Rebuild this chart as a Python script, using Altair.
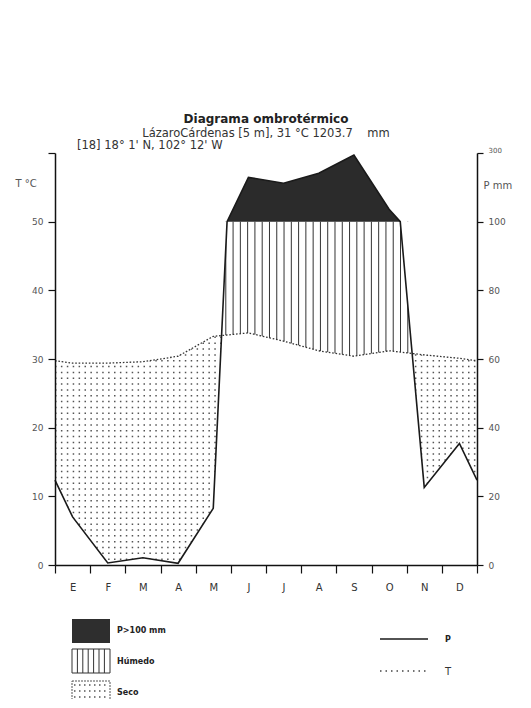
import json
import altair as alt
import pandas as pd

# ---------------- data ----------------
months = ["E", "F", "M", "A", "M", "J", "J", "A", "S", "O", "N", "D"]
precip = [14.0, 0.6, 2.1, 0.5, 16.5, 229.0, 212.0, 241.0, 294.0, 136.0, 22.6, 35.4]
temp = [29.4, 29.4, 29.6, 30.4, 33.3, 33.8, 32.6, 31.2, 30.4, 31.2, 30.6, 30.1]

title_text = "Diagrama ombrotérmico"
station_text = "LázaroCárdenas [5 m], 31 °C 1203.7\u00a0\u00a0\u00a0\u00a0mm"
coord_text = "[18] 18° 1' N, 102° 12' W"
fill_labels = ["P>100 mm", "Húmedo", "Seco"]
line_labels = ["P", "T"]
t_ticks = [0, 10, 20, 30, 40, 50, 60]

# ---------------- geometry derived from the data ----------------
W, H = 422, 412
P_BREAK = 100.0
FONT = "DejaVu Sans"


def disp(p):
    # Walter-Lieth scale: 20 mm = 10 C below 100 mm, compressed 1/10 above
    return p / 2.0 if p <= P_BREAK else 50.0 + (p - P_BREAK) / 20.0


def lerp(a, b, f):
    return a + (b - a) * f


edge_p = (precip[0] + precip[-1]) / 2
edge_t = (temp[0] + temp[-1]) / 2
xs = [0.0] + [i + 0.5 for i in range(12)] + [12.0]
ps = [edge_p] + precip + [edge_p]
ts = [edge_t] + temp + [edge_t]

pts = []
for i in range(len(xs) - 1):
    pts.append((xs[i], ps[i], ts[i], "data"))
    if (ps[i] - P_BREAK) * (ps[i + 1] - P_BREAK) < 0:
        f = (P_BREAK - ps[i]) / (ps[i + 1] - ps[i])
        pts.append((lerp(xs[i], xs[i + 1], f), P_BREAK, lerp(ts[i], ts[i + 1], f), "p100"))
pts.append((xs[-1], ps[-1], ts[-1], "data"))

pts2 = []
for a, b in zip(pts[:-1], pts[1:]):
    pts2.append(a)
    d0 = disp(a[1]) - a[2]
    d1 = disp(b[1]) - b[2]
    if d0 * d1 < 0:
        f = d0 / (d0 - d1)
        pts2.append((lerp(a[0], b[0], f), lerp(a[1], b[1], f), lerp(a[2], b[2], f), "cross"))
pts2.append(pts[-1])

geo = pd.DataFrame(pts2, columns=["x", "p", "t", "kind"])
geo["pm"] = geo["p"].apply(disp)
geo["zero"] = 0.0
geo["fifty"] = 50.0
geo["top"] = 60.0

cross = sorted(geo.loc[geo.kind == "cross", "x"].tolist())
p100 = sorted(geo.loc[geo.kind == "p100", "x"].tolist())
c1, c2 = cross[0], cross[-1]
xa, xb = p100[0], p100[-1]


def seg(x):
    if c1 - 1e-9 <= x <= xa + 1e-9:
        return "L"
    if xb - 1e-9 <= x <= c2 + 1e-9:
        return "R"
    return ""


geo["seg"] = geo["x"].apply(seg)
humid = geo[(geo.x >= c1 - 1e-9) & (geo.x <= c2 + 1e-9)]
wet = geo[geo.p >= P_BREAK - 1e-9]
edges = geo[geo.seg != ""]

# ---------------- scales & axes ----------------
XS = alt.Scale(domain=[0, 12], nice=False, zero=False)
YS = alt.Scale(domain=[0, 60], nice=False, zero=False)

XAX = alt.Axis(
    values=list(range(13)),
    labelExpr=json.dumps(months + [""]) + "[datum.value]",
    title=None, grid=False, tickSize=8, labelPadding=9, labelOffset=W / 24,
    labelFontSize=10, labelColor="#333", labelFont=FONT, labelFlush=False,
    labelOverlap=False, domainColor="#111", domainWidth=1.5,
    tickColor="#111", tickWidth=1.2, zindex=1,
)
YAXL = alt.Axis(
    values=t_ticks, labelExpr="datum.value < 60 ? datum.label : ''",
    grid=False, tickSize=7, labelPadding=5, labelFontSize=9, labelColor="#555",
    labelFont=FONT, domainColor="#111", domainWidth=1.5, tickColor="#111",
    tickWidth=1.2, zindex=1,
    title="T °C", titleAngle=0, titleAlign="left", titleBaseline="middle",
    titleX=-40, titleY=30, titleFontSize=10, titleFontWeight="normal",
    titleColor="#555", titleFont=FONT,
)
YAXR = alt.Axis(
    orient="right", values=t_ticks,
    labelExpr="datum.value <= 50 ? format(datum.value * 2, 'd') : format(100 + (datum.value - 50) * 20, 'd')",
    grid=False, tickSize=6, labelPadding=5,
    labelFontSize={"condition": {"test": "datum.value == 60", "value": 7}, "value": 9},
    labelBaseline={"condition": {"test": "datum.value == 60", "value": "bottom"}, "value": "middle"},
    labelColor="#555", labelFont=FONT, domainColor="#111", domainWidth=1.5,
    tickColor="#111", tickWidth=1.2, zindex=1,
    title="P  mm", titleAngle=0, titleAlign="left", titleBaseline="middle",
    titleX=6, titleY=32, titleFontSize=10, titleFontWeight="normal",
    titleColor="#555", titleFont=FONT,
)


def X(f):
    return alt.X(f, type="quantitative", scale=XS, axis=XAX)


def Y(f, axis=None):
    return alt.Y(f, type="quantitative", scale=YS, axis=axis)


# ---------------- plot layers ----------------
# dotted pattern (dry), masked later
dots = alt.Chart(alt.sequence(0.85, 34.5, 0.85, as_="hy")).transform_calculate(
    x0="0", x1="12"
).mark_rule(color="#555", strokeWidth=1.5, strokeDash=[1.5, 4.4]).encode(
    x=X("x0:Q"), x2="x1:Q", y=Y("hy:Q", YAXL)
)

base = alt.Chart(geo)
mask_above_t = base.mark_area(color="white", orient="vertical").encode(
    x=X("x:Q"), y=Y("t:Q"), y2="top:Q"
)
mask_below_p = base.mark_area(color="white", orient="vertical").encode(
    x=X("x:Q"), y=Y("zero:Q"), y2="pm:Q"
)
black = alt.Chart(wet).mark_area(color="#2b2b2b", orient="vertical").encode(
    x=X("x:Q"), y=Y("fifty:Q"), y2="pm:Q"
)
hatch = alt.Chart(alt.sequence(c1 + 0.12, c2, 0.207, as_="hx")).transform_calculate(
    y0="0", y1="50"
).mark_rule(color="#333", strokeWidth=1).encode(
    x=X("hx:Q"), y=Y("y0:Q"), y2="y1:Q"
)
mask_below_t = alt.Chart(humid).mark_area(color="white", orient="vertical").encode(
    x=X("x:Q"), y=Y("zero:Q"), y2="t:Q"
)
mask_edges = alt.Chart(edges).mark_area(color="white", orient="vertical").encode(
    x=X("x:Q"), y=Y("pm:Q"), y2="fifty:Q", detail="seg:N"
)
p_line = base.mark_line(color="#1a1a1a", strokeWidth=1.6).encode(
    x=X("x:Q"), y=Y("pm:Q", YAXR), order="x:Q"
)
t_line = base.mark_line(color="#333", strokeWidth=1.3, strokeDash=[1.6, 1.8]).encode(
    x=X("x:Q"), y=Y("t:Q"), order="x:Q"
)

# ---------------- header line & legend (layout in pixels) ----------------
one = pd.DataFrame({"k": [0]})
header3 = alt.Chart(one).mark_text(
    text=coord_text, align="left", baseline="middle", fontSize=11.5, font=FONT, color="#333"
).encode(x=alt.value(22), y=alt.value(-7))

leg = []
leg.append(alt.Chart(one).mark_rect(color="#2e2e2e").encode(
    x=alt.value(17), x2=alt.value(55), y=alt.value(466), y2=alt.value(490)))
leg.append(alt.Chart(one).mark_rect(fill="white", stroke="#333", strokeWidth=1).encode(
    x=alt.value(17), x2=alt.value(55), y=alt.value(496), y2=alt.value(520)))
for k in range(1, 7):
    leg.append(alt.Chart(one).mark_rule(color="#333", strokeWidth=1).encode(
        x=alt.value(17 + k * 5.4), y=alt.value(496), y2=alt.value(520)))
leg.append(alt.Chart(one).mark_rect(fill="white", stroke="#555", strokeWidth=1, strokeDash=[2, 1]).encode(
    x=alt.value(17), x2=alt.value(55), y=alt.value(528), y2=alt.value(552)))
for yy in [532, 538, 544, 550]:
    leg.append(alt.Chart(one).mark_rule(color="#555", strokeWidth=1.4, strokeDash=[1.5, 3.5]).encode(
        x=alt.value(19), x2=alt.value(54), y=alt.value(yy)))
for lab, yy in zip(fill_labels, [478, 509, 540]):
    leg.append(alt.Chart(one).mark_text(
        text=lab, align="left", baseline="middle", fontSize=8, fontWeight="bold",
        font=FONT, color="#222").encode(x=alt.value(62), y=alt.value(yy)))
leg.append(alt.Chart(one).mark_rule(color="#1a1a1a", strokeWidth=1.6).encode(
    x=alt.value(325), x2=alt.value(373), y=alt.value(486)))
leg.append(alt.Chart(one).mark_rule(color="#444", strokeWidth=1.4, strokeDash=[1.5, 4]).encode(
    x=alt.value(325), x2=alt.value(373), y=alt.value(518)))
leg.append(alt.Chart(one).mark_text(
    text=line_labels[0], align="left", baseline="middle", fontSize=8, fontWeight="bold",
    font=FONT, color="#222").encode(x=alt.value(390), y=alt.value(487)))
leg.append(alt.Chart(one).mark_text(
    text=line_labels[1], align="left", baseline="middle", fontSize=10,
    font=FONT, color="#333").encode(x=alt.value(390), y=alt.value(519)))

chart = alt.layer(
    dots, mask_above_t, mask_below_p, black, hatch, mask_below_t, mask_edges,
    p_line, t_line, header3, *leg
).resolve_axis(y="independent").properties(
    width=W, height=H,
    autosize=alt.AutoSizeParams(type="none"),
    padding={"left": 47, "top": 145, "right": 40, "bottom": 134},
    title=alt.TitleParams(
        text=title_text, subtitle=station_text, anchor="middle", frame="group",
        fontSize=12, fontWeight="bold", font=FONT, color="#222",
        subtitleFontSize=11.5, subtitleFont=FONT, subtitleColor="#333",
        subtitlePadding=2, offset=0,
    ),
).configure_view(stroke=None).configure(background="white")

chart.save("out.html", embed_options={"renderer": "svg", "actions": False})
